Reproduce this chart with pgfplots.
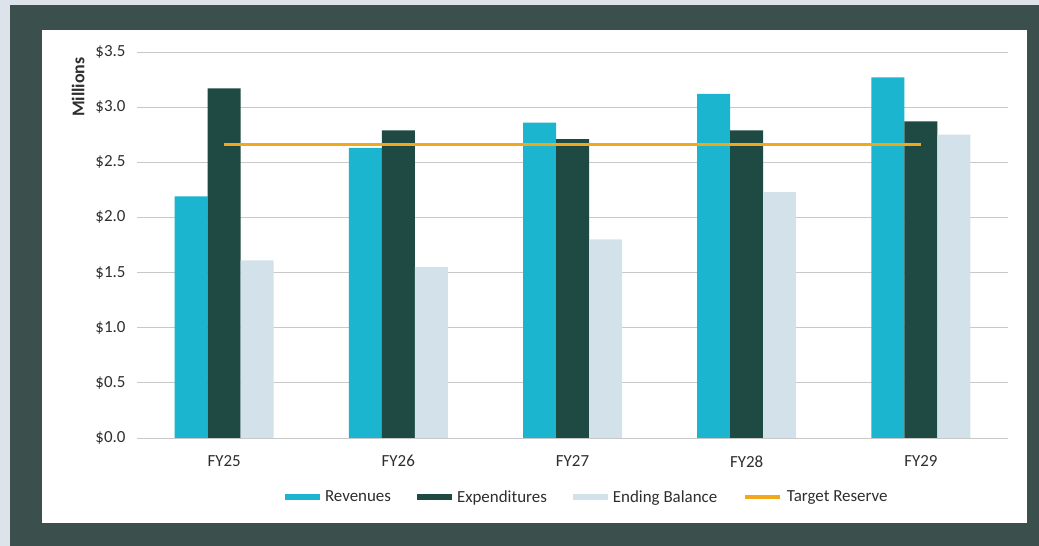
\documentclass[border=0pt]{standalone}
\usepackage{fontspec}
\setmainfont{Carlito}
\usepackage{pgfplots}
\pgfplotsset{compat=1.18}
\definecolor{rev}{HTML}{1BB5CF}
\definecolor{expc}{HTML}{1E4A43}
\definecolor{endb}{HTML}{D3E2EA}
\definecolor{tgt}{HTML}{F2A81D}
\definecolor{framec}{HTML}{3B504C}
\definecolor{bgout}{HTML}{DCE3EA}
\definecolor{txt}{HTML}{2E2E2E}
\definecolor{gridc}{HTML}{C8C8C8}
\pgfplotsset{
  barleg/.style={legend image code/.code={\path[##1] (0bp,-3bp) rectangle (35bp,3bp);}},
  lineleg/.style={legend image code/.code={\draw[##1] (0bp,0bp) -- (35bp,0bp);}},
}
\begin{document}
\begin{tikzpicture}[x=1bp,y=1bp]
\useasboundingbox (0,0) rectangle (1039,546);
\fill[bgout] (0,0) rectangle (1039,546);
\fill[framec] (10,0) rectangle (1039,541);
\fill[white] (42,23) rectangle (1027,516);
\begin{axis}[
  anchor=south west, at={(137bp,108bp)},
  width=871bp, height=386bp, scale only axis,
  xmin=-0.5, xmax=4.5, ymin=0, ymax=3.5,
  ytick={0,0.5,...,3.5},
  xtick={0,1,2,3,4},
  xticklabels={FY25,FY26,FY27,FY28,FY29},
  yticklabel={\$\pgfmathprintnumber[fixed,fixed zerofill,precision=1]{\tick}},
  /pgf/number format/assume math mode=true,
  ymajorgrids, grid style={gridc, line width=0.8bp},
  major tick length=0pt,
  axis line style={draw=none},
  ticklabel style={font=\fontsize{17}{19}\selectfont, text=txt},
  yticklabel style={xshift=-8bp},
  xticklabel style={yshift=-14bp},
  ylabel={Millions},
  ylabel style={at={(axis description cs:-0.0677,0.909)}, anchor=center, font=\fontsize{18}{20}\selectfont\bfseries, text=txt},
  ybar=0pt, bar width=33bp,
  legend columns=4,
  legend style={at={(axis description cs:0.517,-0.153)}, anchor=center, draw=none, fill=none,
    font=\fontsize{17}{19}\selectfont, text=txt,
    /tikz/every odd column/.append style={column sep=3bp},
    /tikz/every even column/.append style={column sep=24bp}},
]
\addplot[fill=rev, draw=none, bar shift=-33bp, barleg]
  coordinates {(0,2.19) (1,2.63) (2,2.86) (3,3.12) (4,3.27)};
\addlegendentry{Revenues}
\addplot[fill=expc, draw=none, bar shift=0bp, barleg]
  coordinates {(0,3.17) (1,2.79) (2,2.71) (3,2.79) (4,2.87)};
\addlegendentry{Expenditures}
\addplot[fill=endb, draw=none, bar shift=33bp, barleg]
  coordinates {(0,1.61) (1,1.55) (2,1.80) (3,2.23) (4,2.75)};
\addlegendentry{Ending Balance}
\addplot[sharp plot, draw=tgt, line width=3.5bp, mark=none, bar shift=0bp, lineleg]
  coordinates {(0,2.66) (4,2.66)};
\addlegendentry{Target Reserve}
\end{axis}
\end{tikzpicture}
\end{document}
